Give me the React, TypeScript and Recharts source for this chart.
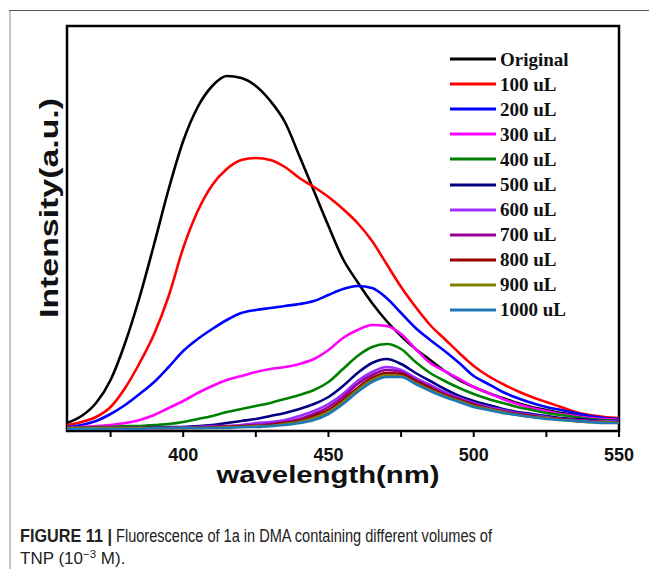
import React from "react";
import {
  LineChart,
  Line,
  XAxis,
  YAxis,
  Legend,
  ReferenceArea,
  Label,
} from "recharts";

// emission wavelength (nm)
const wavelengths = [
  360, 365, 370, 375, 380, 385, 390, 395, 400, 405, 410, 415, 420, 425, 430,
  435, 440, 445, 450, 455, 460, 465, 470, 475, 480, 485, 490, 495, 500, 505,
  510, 515, 520, 525, 530, 535, 540, 545, 550,
];

// intensities (a.u.)
const original = [8, 15, 28, 51, 88, 134, 187, 242, 290, 324, 345, 355, 353, 345, 330, 309, 275, 240, 205, 172, 149, 128, 110, 95, 82, 71, 60, 51, 44, 38, 33, 28, 24, 21, 18, 16, 14, 12, 11];
const ul100 = [6, 9, 14, 24, 43, 68, 97, 135, 183, 220, 246, 262, 271, 273, 271, 264, 253, 244, 234, 222, 208, 190, 167, 144, 124, 106, 92, 78, 65, 55, 47, 40, 34, 29, 24, 19, 16, 14, 13];
const ul200 = [4, 6, 10, 17, 26, 37, 49, 64, 80, 92, 102, 111, 118, 121, 123, 125, 127, 130, 136, 142, 145, 143, 133, 118, 103, 91, 80, 68, 55, 47, 39, 33, 28, 24, 21, 18, 15, 13, 12];
const ul300 = [3, 4, 5, 6, 8, 11, 16, 23, 30, 38, 45, 51, 55, 59, 62, 64, 67, 72, 81, 93, 101, 106, 105, 97, 82, 68, 60, 52, 44, 38, 32, 27, 23, 20, 17, 15, 13, 12, 11];
const ul400 = [3, 3, 4, 4, 5, 5, 6, 7, 9, 12, 15, 19, 22, 25, 28, 32, 36, 41, 49, 62, 75, 84, 87, 82, 69, 58, 50, 43, 37, 32, 28, 24, 21, 18, 16, 14, 12, 11, 10];
const ul500 = [3, 3, 3, 3, 3, 3, 4, 4, 4, 5, 6, 8, 10, 12, 15, 18, 22, 27, 34, 45, 58, 68, 72, 67, 58, 50, 42, 35, 30, 26, 22, 19, 17, 15, 13, 12, 11, 10, 10];
const ul600 = [3, 3, 3, 3, 3, 3, 3, 3, 4, 4, 5, 5, 6, 8, 9, 11, 15, 20, 27, 37, 50, 59, 64, 61, 53, 46, 39, 33, 28, 24, 21, 18, 16, 14, 12, 11, 10, 10, 9];
const ul700 = [3, 3, 3, 3, 3, 3, 3, 3, 3, 4, 4, 5, 5, 6, 7, 9, 12, 17, 24, 34, 47, 56, 61, 59, 51, 44, 37, 32, 27, 23, 20, 17, 15, 13, 12, 11, 10, 9, 9];
const ul800 = [3, 3, 3, 3, 3, 3, 3, 3, 3, 3, 4, 4, 5, 5, 6, 8, 10, 15, 21, 31, 43, 53, 58, 57, 50, 43, 36, 31, 26, 22, 19, 17, 15, 13, 12, 10, 9, 9, 8];
const ul900 = [3, 3, 3, 3, 3, 3, 3, 3, 3, 3, 3, 4, 4, 5, 5, 7, 9, 13, 19, 29, 41, 51, 56, 55, 48, 41, 35, 30, 25, 22, 19, 16, 14, 13, 11, 10, 9, 9, 8];
const ul1000 = [2, 2, 2, 2, 2, 2, 3, 3, 3, 3, 3, 3, 4, 4, 5, 6, 8, 11, 17, 27, 39, 49, 54, 54, 47, 40, 34, 29, 24, 21, 18, 16, 14, 12, 11, 10, 9, 8, 8];

const seriesNames = ["Original", "100 uL", "200 uL", "300 uL", "400 uL", "500 uL", "600 uL", "700 uL", "800 uL", "900 uL", "1000 uL"];
const seriesValues = [original, ul100, ul200, ul300, ul400, ul500, ul600, ul700, ul800, ul900, ul1000];
const xTicks = [375, 400, 425, 450, 475, 500, 525, 550];

const COLORS = ["#000000", "#ff0000", "#0000ff", "#ff00ff", "#008000", "#000080", "#9b30ff", "#990099", "#990000", "#808000", "#1f78b4"];

const data = wavelengths.map((wl, i) => {
  const row: Record<string, number> = { wl };
  seriesValues.forEach((vals, s) => {
    row["s" + s] = vals[i];
  });
  return row;
});

const SANS = "'Liberation Sans', Arial, Helvetica, sans-serif";
const SERIF = "'Liberation Serif', 'Times New Roman', serif";

const XTick = (props: any) => {
  const { x, y, payload } = props;
  if (payload.value % 50 !== 0) return <g />;
  return (
    <text x={x} y={y + 22} textAnchor="middle" fontFamily={SANS} fontWeight="bold" fontSize={18} fill="#111">
      {payload.value}
    </text>
  );
};

// keep the legend in series order (recharts sorts its payload by name)
const LegendBox = () => (
  <div>
    {seriesNames.map((name, s) => (
      <div key={name} style={{ height: 25.1, display: "flex", alignItems: "center" }}>
        <svg width={52} height={6} style={{ display: "block" }}>
          <line x1={2} y1={3} x2={48} y2={3} stroke={COLORS[s]} strokeWidth={3} />
        </svg>
        <span style={{ fontFamily: SERIF, fontWeight: "bold", fontSize: 19, color: "#111", lineHeight: "25px" }}>
          {name}
        </span>
      </div>
    ))}
  </div>
);

export default function App() {
  return (
    <div style={{ position: "absolute", left: 0, top: 0, width: 649, height: 577, background: "#fff", overflow: "hidden" }}>
      <div style={{ position: "absolute", left: 9, top: 10, width: 640, height: 0, borderTop: "1px solid #555" }} />
      <div style={{ position: "absolute", left: 9, top: 11, width: 0, height: 558, borderLeft: "2px solid #c4c4c4" }} />
      <div style={{ position: "absolute", left: 0, top: 0 }}>
        <LineChart width={649} height={500} data={data} margin={{ top: 26, right: 30, bottom: 29, left: 67 }}>
          <XAxis
            dataKey="wl"
            type="number"
            domain={[360, 550]}
            ticks={xTicks}
            allowDataOverflow
            height={40}
            tick={<XTick />}
            tickSize={6}
            stroke="#000"
            strokeWidth={2}
            interval={0}
          >
            <Label
              content={() => (
                <text x={328} y={483} textAnchor="middle" fontFamily={SANS} fontWeight="bold" fontSize={24} textLength={223} lengthAdjust="spacingAndGlyphs" fill="#111">
                  wavelength(nm)
                </text>
              )}
            />
          </XAxis>
          <YAxis type="number" domain={[0, 405]} width={0} tick={false} tickLine={false} axisLine={false} />
          <ReferenceArea x1={360} x2={550} y1={0} y2={405} fill="none" stroke="#000" strokeWidth={2.5} ifOverflow="visible" />
          {seriesNames.map((name, s) => (
            <Line
              key={name}
              type="monotone"
              dataKey={"s" + s}
              name={name}
              stroke={COLORS[s]}
              strokeWidth={2.6}
              dot={false}
              isAnimationActive={false}
            />
          ))}
          <Legend
            layout="horizontal"
            verticalAlign="middle"
            align="center"
            content={<LegendBox />}
            wrapperStyle={{ left: 448, top: 46.5, width: 180 }}
          />
        </LineChart>
      </div>
      <svg width={649} height={577} style={{ position: "absolute", left: 0, top: 0, pointerEvents: "none" }}>
        <text x={58} y={208} transform="rotate(-90, 58, 208)" textAnchor="middle" fontFamily={SANS} fontWeight="bold" fontSize={25} textLength={220} lengthAdjust="spacingAndGlyphs" fill="#111">
          Intensity(a.u.)
        </text>
        <text x={20} y={542} fontFamily={SANS} fontSize={17.5} fill="#222" fontWeight="bold" textLength={92} lengthAdjust="spacingAndGlyphs">
          FIGURE 11 |
        </text>
        <text x={116} y={542} fontFamily={SANS} fontSize={17.5} fill="#222" textLength={376} lengthAdjust="spacingAndGlyphs">
          Fluorescence of 1a in DMA containing different volumes of
        </text>
        <text x={20} y={564} fontFamily={SANS} fontSize={17} fill="#222">
          TNP (10<tspan dy={-6} fontSize={11.5}>−3</tspan><tspan dy={6}> M).</tspan>
        </text>
      </svg>
    </div>
  );
}
